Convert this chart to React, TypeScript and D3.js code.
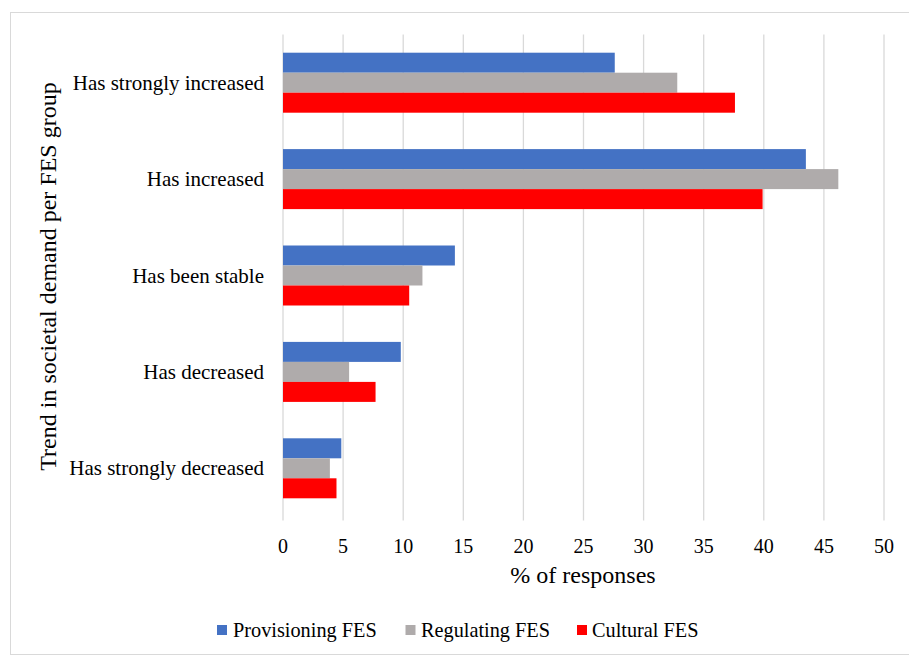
import React from "react";
import * as d3 from "d3";

const categories = ["Has strongly increased", "Has increased", "Has been stable", "Has decreased", "Has strongly decreased"];
const seriesNames = ["Provisioning FES", "Regulating FES", "Cultural FES"];
const seriesColors = ["#4472C4", "#AFABAB", "#FF0000"];
const provisioning = [27.6, 43.5, 14.3, 9.8, 4.85];
const regulating = [32.8, 46.2, 11.6, 5.5, 3.9];
const cultural = [37.6, 39.9, 10.5, 7.7, 4.45];
const xTicks = [0, 5, 10, 15, 20, 25, 30, 35, 40, 45, 50];

const W = 909, H = 657;
const left = 283, right = 884, top = 34.5, bottom = 516.5;
const font = "'Liberation Serif', 'Times New Roman', serif";

export default function App() {
  const series = [provisioning, regulating, cultural];
  const x = d3.scaleLinear().domain([0, 50]).range([left, right]);
  const y = d3.scaleBand().domain(categories).range([top, bottom]).paddingInner(0.3776).paddingOuter(0.1888);
  const inner = d3.scaleBand().domain(seriesNames).range([0, y.bandwidth()]);
  const legendItems = [
    { sq: 217, tx: 233 },
    { sq: 405.5, tx: 421 },
    { sq: 577, tx: 592 },
  ];
  return (
    <svg width={W} height={H} style={{ position: "absolute", left: 0, top: 0 }}>
      <rect x={0} y={0} width={W} height={H} fill="#fff" />
      <rect x={10.5} y={12.5} width={W + 10} height={642} fill="#fff" stroke="#d9d9d9" strokeWidth={1} />
      {xTicks.map((t) => (
        <line key={t} x1={x(t)} x2={x(t)} y1={top} y2={bottom + 4} stroke="#d9d9d9" strokeWidth={1.3} />
      ))}
      {categories.map((c, i) => (
        <g key={c}>
          {series.map((s, j) => (
            <rect
              key={j}
              x={x(0)}
              y={(y(c) as number) + (inner(seriesNames[j]) as number)}
              width={x(s[i]) - x(0)}
              height={inner.bandwidth()}
              fill={seriesColors[j]}
            />
          ))}
          <text
            x={264}
            y={(y(c) as number) + y.bandwidth() / 2}
            textAnchor="end"
            dominantBaseline="central"
            fontFamily={font}
            fontSize={21}
            fill="#000"
          >
            {c}
          </text>
        </g>
      ))}
      {xTicks.map((t) => (
        <text key={t} x={x(t)} y={546} textAnchor="middle" dominantBaseline="central" fontFamily={font} fontSize={20} fill="#000">
          {t}
        </text>
      ))}
      <text x={583} y={575} textAnchor="middle" dominantBaseline="central" fontFamily={font} fontSize={24} fill="#000">
        % of responses
      </text>
      <text
        transform={`translate(48, ${(top + bottom) / 2 + 1}) rotate(-90)`}
        textAnchor="middle"
        dominantBaseline="central"
        fontFamily={font}
        fontSize={24}
        fill="#000"
      >
        Trend in societal demand per FES group
      </text>
      {seriesNames.map((n, j) => (
        <g key={n}>
          <rect x={legendItems[j].sq} y={625} width={10} height={10} fill={seriesColors[j]} />
          <text x={legendItems[j].tx} y={630} dominantBaseline="central" fontFamily={font} fontSize={20.3} fill="#000">
            {n}
          </text>
        </g>
      ))}
    </svg>
  );
}
